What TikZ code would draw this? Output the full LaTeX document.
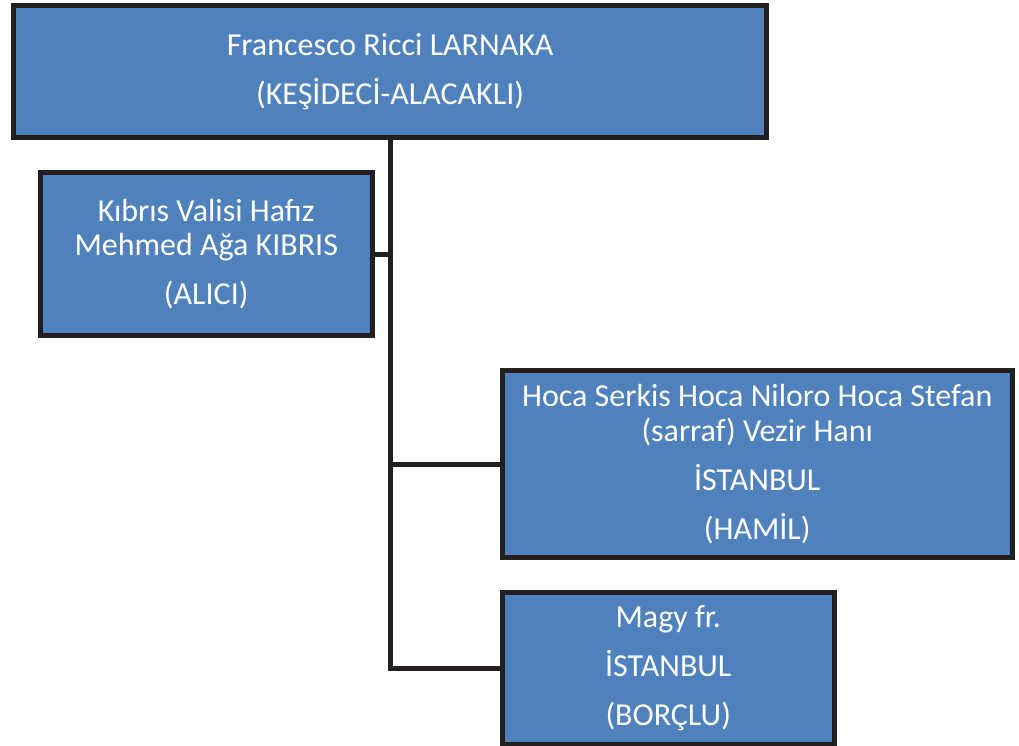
\documentclass[tikz,border=0pt]{standalone}
\usepackage{fontspec}
\setmainfont{Carlito}
\definecolor{boxfill}{HTML}{4F81BD}
\definecolor{boxline}{HTML}{231F20}
\tikzset{
  orgbox/.style={draw=boxline, fill=boxfill, line width=5pt, inner sep=0pt,
    text=white, align=center, font=\fontsize{32}{34.5}\selectfont},
  link/.style={draw=boxline, line width=5pt}
}
\begin{document}
\begin{tikzpicture}[x=1pt,y=-1pt]
\useasboundingbox (0,0) rectangle (1019,746);
\node[orgbox, minimum width=752.8pt, minimum height=131.5pt] (b1) at (390.1,71.75)
  {Francesco Ricci LARNAKA\\[14.5pt](KEŞİDECİ-ALACAKLI)};
\node[orgbox, minimum width=332.5pt, minimum height=163pt] (b2) at (206.25,254)
  {Kıbrıs Valisi Hafız\\Mehmed Ağa KIBRIS\\[14.5pt](ALICI)};
\node[orgbox, minimum width=509.5pt, minimum height=187pt] (b3) at (757.25,464)
  {Hoca Serkis Hoca Niloro Hoca Stefan\\(sarraf) Vezir Hanı\\[14.5pt]İSTANBUL\\[14.5pt](HAMİL)};
\node[orgbox, minimum width=331.5pt, minimum height=152pt] (b4) at (668.25,668.5)
  {Magy fr.\\[14.5pt]İSTANBUL\\[14.5pt](BORÇLU)};
\draw[link] (b1.south) |- (b4.west);
\draw[link] (b2.east) -- (b2.east -| b1.south);
\draw[link] (b1.south |- b3.west) -- (b3.west);
\end{tikzpicture}
\end{document}
